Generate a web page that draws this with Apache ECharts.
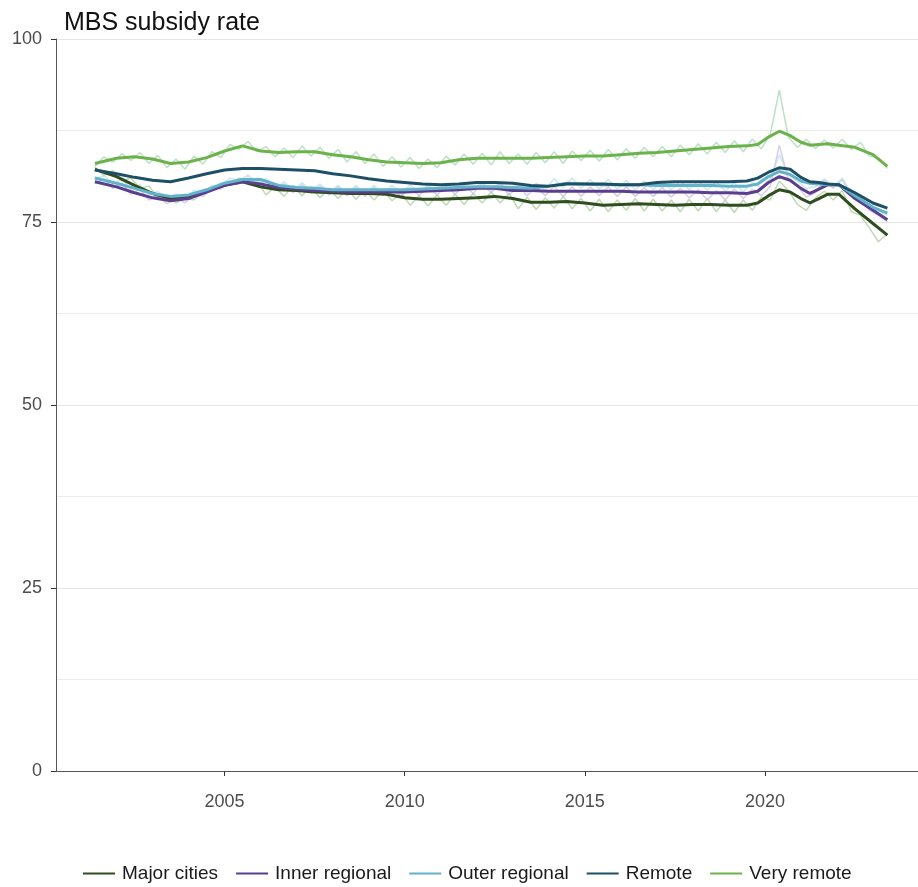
<!DOCTYPE html>
<html>
	<head>
		<meta charset="UTF-8">
		<title>MBS subsidy rate</title>
		<script src="https://cdn.jsdelivr.net/npm/echarts/dist/echarts.min.js" type="text/javascript" charset="utf-8"></script>
		<style>
			html, body {margin: 0; padding: 0; background: #fff;}
		</style>
	</head>
	<body>
		<div id="chart" style="width: 918px;height: 887px;"></div>
		<script type="text/javascript">
			var regions = ['Major cities', 'Inner regional', 'Outer regional', 'Remote', 'Very remote'];
			var colors = ['#2f4d1f', '#5a3f8e', '#62b2c9', '#1f4f66', '#6cb24c'];
			var rawColors = ['#a9cc9c', '#c9bde3', '#b9dfea', '#9fb9c6', '#a6d7b2'];
			var xTicks = [2005, 2010, 2015, 2020];
			var yTicks = [0, 25, 50, 75, 100];

			// smoothed trend lines
			var smoothYears = [2001.4, 2002, 2002.5, 2003, 2003.5, 2004, 2004.5, 2005, 2005.5, 2006,
				2006.5, 2007, 2007.5, 2008, 2008.5, 2009, 2009.5, 2010, 2010.5, 2011,
				2011.5, 2012, 2012.5, 2013, 2013.5, 2014, 2014.5, 2015, 2015.5, 2016,
				2016.5, 2017, 2017.5, 2018, 2018.5, 2019, 2019.5, 2019.8, 2020.1, 2020.4,
				2020.7, 2021, 2021.25, 2021.5, 2021.75, 2022.05, 2022.5, 2023, 2023.4];
			var majorCities = [82.2, 81.2, 80.0, 78.9, 78.2, 78.5, 79.3, 80.0, 80.5, 79.8,
				79.4, 79.3, 79.1, 79.0, 78.9, 78.9, 78.8, 78.3, 78.1, 78.1,
				78.2, 78.3, 78.5, 78.2, 77.7, 77.7, 77.8, 77.6, 77.3, 77.4,
				77.5, 77.4, 77.3, 77.4, 77.4, 77.3, 77.3, 77.6, 78.6, 79.4,
				79.1, 78.2, 77.6, 78.2, 78.8, 78.8, 76.8, 74.8, 73.2];
			var innerRegional = [80.5, 79.8, 79.0, 78.3, 77.9, 78.2, 79.1, 80.0, 80.5, 80.2,
				79.7, 79.5, 79.3, 79.2, 79.1, 79.1, 79.1, 79.1, 79.2, 79.3,
				79.4, 79.6, 79.6, 79.3, 79.3, 79.2, 79.2, 79.2, 79.2, 79.2,
				79.1, 79.1, 79.1, 79.1, 79.0, 79.0, 78.9, 79.2, 80.4, 81.2,
				80.7, 79.6, 78.9, 79.5, 80.1, 80.1, 78.2, 76.6, 75.3];
			var outerRegional = [81.0, 80.3, 79.6, 78.9, 78.5, 78.7, 79.4, 80.3, 80.8, 80.8,
				80.0, 79.7, 79.6, 79.4, 79.4, 79.4, 79.4, 79.4, 79.5, 79.6,
				79.7, 79.8, 79.8, 79.7, 79.6, 79.9, 80.3, 80.2, 80.1, 80.1,
				80.1, 80.0, 80.0, 80.0, 80.0, 79.9, 79.9, 80.2, 81.2, 81.9,
				81.5, 80.6, 80.3, 80.2, 80.1, 80.1, 78.6, 77.0, 76.2];
			var remote = [82.1, 81.6, 81.1, 80.7, 80.5, 81.0, 81.6, 82.1, 82.3, 82.3,
				82.2, 82.1, 82.0, 81.6, 81.3, 80.9, 80.6, 80.4, 80.2, 80.1,
				80.2, 80.4, 80.4, 80.3, 80.0, 79.9, 80.2, 80.2, 80.2, 80.1,
				80.1, 80.4, 80.5, 80.5, 80.5, 80.5, 80.6, 81.0, 81.8, 82.4,
				82.2, 81.1, 80.5, 80.4, 80.2, 80.1, 79.0, 77.6, 76.9];
			var veryRemote = [83.0, 83.7, 83.9, 83.6, 83.0, 83.2, 83.8, 84.7, 85.4, 84.7,
				84.5, 84.6, 84.6, 84.2, 83.9, 83.5, 83.2, 83.1, 83.0, 83.1,
				83.5, 83.7, 83.7, 83.7, 83.7, 83.8, 83.9, 84.0, 84.0, 84.2,
				84.4, 84.5, 84.7, 84.9, 85.1, 85.3, 85.4, 85.6, 86.6, 87.4,
				86.8, 85.9, 85.5, 85.6, 85.7, 85.5, 85.2, 84.2, 82.6];

			// quarterly raw values, first quarter 2001.4
			var rawStart = 2001.4;
			var rawStep = 0.25;
			var rawMajorCities = [
				82.5, 81.4, 82.0, 80.6,
				81.0, 79.6, 79.9, 78.4,
				78.6, 77.6, 78.3, 78.0,
				79.0, 79.3, 80.3, 80.0,
				81.0, 80.2, 80.6, 78.7,
				79.8, 78.5, 80.0, 78.6,
				79.8, 78.3, 79.6, 78.2,
				79.5, 78.1, 79.4, 78.0,
				79.3, 77.9, 79.0, 77.3,
				78.6, 77.2, 78.7, 77.3,
				78.8, 77.4, 78.9, 77.6,
				79.1, 77.6, 78.9, 76.8,
				78.4, 76.7, 78.3, 76.9,
				78.5, 76.8, 78.2, 76.5,
				78.1, 76.4, 78.0, 76.6,
				78.2, 76.5, 78.1, 76.5,
				78.0, 76.4, 78.1, 76.5,
				78.2, 76.4, 78.0, 76.3,
				78.0, 76.6, 78.4, 78.0,
				80.6, 79.3, 77.4, 76.6,
				78.3, 79.2, 78.0, 79.3,
				76.4, 75.9, 74.2, 72.3,
				73.4];
			var rawInnerRegional = [
				80.3, 80.9, 79.6, 80.3,
				78.8, 79.5, 78.0, 78.6,
				77.5, 78.3, 77.6, 78.8,
				78.5, 79.6, 79.5, 80.6,
				80.2, 81.0, 80.1, 80.6,
				79.3, 80.2, 79.0, 80.1,
				78.9, 79.9, 78.7, 79.8,
				78.6, 79.7, 78.5, 79.7,
				78.6, 79.6, 78.5, 79.7,
				78.6, 79.8, 78.7, 79.9,
				78.8, 80.1, 78.9, 80.3,
				79.0, 80.2, 78.7, 79.9,
				78.6, 79.8, 78.6, 79.9,
				78.5, 79.8, 78.5, 79.8,
				78.6, 79.8, 78.5, 79.8,
				78.5, 79.7, 78.5, 79.7,
				78.4, 79.6, 78.3, 79.4,
				78.0, 79.3, 78.0, 79.5,
				78.2, 79.5, 78.6, 79.9,
				85.5, 80.8, 79.9, 78.4,
				79.0, 80.7, 79.6, 80.8,
				78.6, 77.9, 76.6, 75.9,
				75.0];
			var rawOuterRegional = [
				80.8, 81.4, 80.2, 80.8,
				79.5, 80.1, 78.7, 79.2,
				78.1, 78.8, 78.2, 79.3,
				79.0, 80.0, 80.0, 81.0,
				80.6, 81.4, 80.4, 80.9,
				79.6, 80.5, 79.3, 80.4,
				79.2, 80.2, 79.0, 80.0,
				78.9, 80.0, 78.9, 80.0,
				78.9, 80.0, 78.9, 80.1,
				79.0, 80.1, 79.1, 80.3,
				79.2, 80.4, 79.3, 80.5,
				79.3, 80.4, 79.1, 80.3,
				79.0, 80.3, 79.4, 80.9,
				79.7, 81.0, 79.6, 80.8,
				79.5, 80.8, 79.5, 80.7,
				79.4, 80.6, 79.4, 80.6,
				79.4, 80.6, 79.4, 80.6,
				79.3, 80.5, 79.2, 80.4,
				79.1, 80.4, 79.7, 80.9,
				84.2, 81.4, 80.6, 79.6,
				79.8, 80.9, 79.9, 81.0,
				79.0, 78.4, 77.1, 76.5,
				75.9];
			var rawVeryRemote = [
				82.6, 83.9, 83.2, 84.3,
				83.4, 84.5, 83.0, 84.1,
				82.4, 83.6, 82.2, 84.0,
				82.9, 84.6, 83.8, 85.6,
				84.9, 86.0, 84.6, 85.3,
				83.9, 85.1, 83.8, 85.4,
				84.0, 85.2, 83.7, 84.9,
				83.2, 84.6, 83.0, 84.3,
				82.6, 83.9, 82.5, 83.8,
				82.3, 83.6, 82.4, 84.0,
				82.8, 84.3, 82.9, 84.4,
				82.8, 84.6, 83.0, 84.3,
				82.9, 84.5, 83.1, 84.6,
				83.0, 84.7, 83.4, 84.8,
				83.3, 84.9, 83.5, 85.0,
				83.7, 85.2, 83.9, 85.3,
				83.9, 85.5, 84.2, 85.7,
				84.3, 85.9, 84.5, 86.1,
				84.6, 86.3, 85.0, 87.0,
				93.0, 86.6, 85.2, 86.3,
				85.0, 86.2, 85.1, 86.3,
				84.9, 85.9, 84.0, 83.8,
				82.3];

			function pairs(xs, ys) {
				return ys.map(function (v, i) { return [xs[i], v]; });
			}
			function rawPairs(ys) {
				return ys.map(function (v, i) { return [rawStart + i * rawStep, v]; });
			}

			var smoothData = [majorCities, innerRegional, outerRegional, remote, veryRemote];
			var rawData = [rawMajorCities, rawInnerRegional, rawOuterRegional, null, rawVeryRemote];

			var series = [];
			rawData.forEach(function (d, i) {
				if (!d) return;
				series.push({
					name: regions[i] + ' raw',
					type: 'line',
					data: rawPairs(d),
					showSymbol: false,
					silent: true,
					lineStyle: {color: rawColors[i], width: 1.5, opacity: 0.75},
					z: 2
				});
			});
			smoothData.forEach(function (d, i) {
				series.push({
					name: regions[i],
					type: 'line',
					data: pairs(smoothYears, d),
					showSymbol: false,
					itemStyle: {color: colors[i]},
					lineStyle: {color: colors[i], width: 3},
					z: 3
				});
			});

			var chart = echarts.init(document.getElementById('chart'));
			var option = {
				animation: false,
				textStyle: {fontFamily: 'Liberation Sans, Arial, sans-serif'},
				title: {
					text: 'MBS subsidy rate',
					left: 59,
					top: 6,
					textStyle: {fontSize: 25, fontWeight: 'normal', color: '#111'}
				},
				legend: {
					data: regions,
					top: 859,
					left: 78,
					icon: 'rect',
					itemWidth: 32,
					itemHeight: 2,
					itemGap: 18,
					textStyle: {fontSize: 19, color: '#1a1a1a', padding: [0, 0, 0, 2]}
				},
				grid: {left: 56, right: 0, top: 39, bottom: 116, containLabel: false},
				xAxis: {
					type: 'value',
					min: 2000.32,
					max: 2024.25,
					axisLine: {lineStyle: {color: '#555'}},
					axisTick: {show: true, length: 5, customValues: xTicks, lineStyle: {color: '#333'}},
					axisLabel: {
						customValues: xTicks,
						fontSize: 18,
						color: '#4d4d4d',
						margin: 22,
						formatter: function (v) { return String(v); }
					},
					splitLine: {show: false}
				},
				yAxis: {
					type: 'value',
					min: yTicks[0],
					max: yTicks[yTicks.length - 1],
					interval: 25,
					axisLine: {show: true, lineStyle: {color: '#555'}},
					axisTick: {show: true, length: 5, lineStyle: {color: '#333'}},
					axisLabel: {fontSize: 18, color: '#4d4d4d', margin: 14},
					splitLine: {lineStyle: {color: '#e6e6e6'}},
					minorTick: {show: false, splitNumber: 2},
					minorSplitLine: {show: true, lineStyle: {color: '#ececec'}}
				},
				series: series
			};
			chart.setOption(option, true);
		</script>
	</body>
</html>
